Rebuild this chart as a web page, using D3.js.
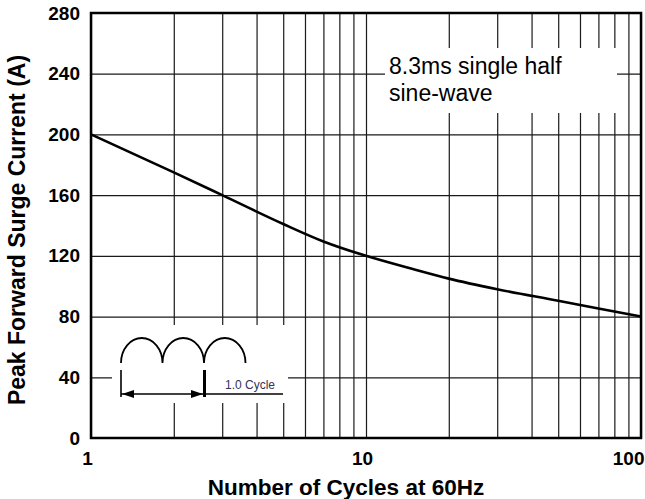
<!DOCTYPE html>
<html>
<head>
<meta charset="utf-8">
<script src="https://cdnjs.cloudflare.com/ajax/libs/d3/7.8.5/d3.min.js"></script>
<style>
html, body { margin: 0; padding: 0; background: #fff; }
svg { display: block; font-family: "Liberation Sans", Arial, sans-serif; }
.tick text { font-weight: bold; font-size: 19px; fill: #000; }
.grid line { stroke: #1a1a1a; stroke-width: 1.2; }
</style>
</head>
<body>
<svg id="chart" width="645" height="499"></svg>
<script>
// surge curve
var cycles = [1, 2, 3, 5, 7, 10, 15, 20, 30, 50, 70, 100];
var surge  = [200, 175, 160, 141, 129.5, 120, 111, 105, 98, 90.4, 85.3, 80];

var yTicks = [0, 40, 80, 120, 160, 200, 240, 280];
var xGrid = [1, 2, 3, 4, 5, 6, 7, 8, 9, 10, 20, 30, 40, 50, 60, 70, 80, 90, 100];
var xLabels = [1, 10, 100];

var margin = {top: 13, left: 91, right: 4, bottom: 61};
var W = 645, H = 499;
var w = W - margin.left - margin.right,
    h = H - margin.top - margin.bottom;

var svg = d3.select("#chart");
var g = svg.append("g").attr("transform", "translate(" + margin.left + "," + margin.top + ")");

var x = d3.scaleLog().domain([1, 100]).range([0, w]);
var y = d3.scaleLinear().domain([0, 280]).range([h, 0]);

// grid + tick labels
var yAxis = g.append("g").attr("class", "grid")
  .call(d3.axisLeft(y).tickValues(yTicks).tickSize(-w).tickPadding(11).tickFormat(d3.format("d")));
yAxis.select(".domain").remove();

var xAxis = g.append("g").attr("class", "grid")
  .attr("transform", "translate(0," + h + ")")
  .call(d3.axisBottom(x).tickValues(xGrid).tickSize(-h)
    .tickFormat(function(d) { return xLabels.indexOf(d) >= 0 ? d : ""; }));
xAxis.select(".domain").remove();
xAxis.selectAll(".tick text")
  .attr("y", 27).attr("dy", 0).attr("dx", -4)
  .filter(function(d) { return d === 100; })
  .attr("text-anchor", "end").attr("dx", 3);

// white boxes behind annotation and inset
g.append("rect").attr("x", 385 - margin.left).attr("y", 48 - margin.top)
  .attr("width", 232).attr("height", 65).attr("fill", "#fff");
g.append("rect").attr("x", 112 - margin.left).attr("y", 325 - margin.top)
  .attr("width", 176).attr("height", 78).attr("fill", "#fff");

// annotation
var note = g.append("text").attr("x", 389 - margin.left).attr("y", 74 - margin.top)
  .style("font-size", "23px").attr("fill", "#000");
note.append("tspan").text("8.3ms single half");
note.append("tspan").attr("x", 389 - margin.left).attr("dy", 27).text("sine-wave");

// curve
var line = d3.line()
  .x(function(d, i) { return x(cycles[i]); })
  .y(function(d) { return y(d); })
  .curve(d3.curveMonotoneX);

g.append("path").datum(surge)
  .attr("d", line)
  .attr("fill", "none")
  .attr("stroke", "#000")
  .attr("stroke-width", 2.6);

// half sine-wave inset
var inset = svg.append("g").attr("transform", "translate(121,363)");
var arcW = 41.5, arcH = 25;
var arcs = "";
for (var k = 0; k < 3; k++) {
  arcs += "M" + (k * arcW) + ",0 A" + (arcW / 2) + "," + arcH + " 0 0 1 " + ((k + 1) * arcW) + ",0 ";
}
inset.append("path").attr("d", arcs).attr("fill", "none").attr("stroke", "#000").attr("stroke-width", 1.8);

inset.append("line").attr("x1", 0).attr("x2", 0).attr("y1", 7).attr("y2", 34)
  .attr("stroke", "#000").attr("stroke-width", 1.6);
inset.append("line").attr("x1", 2 * arcW + 0.5).attr("x2", 2 * arcW + 0.5).attr("y1", 7).attr("y2", 34)
  .attr("stroke", "#000").attr("stroke-width", 3);
inset.append("line").attr("x1", 0).attr("x2", 162).attr("y1", 31).attr("y2", 31)
  .attr("stroke", "#000").attr("stroke-width", 1.6);
inset.append("path").attr("d", "M1,31 L13,27 L13,35 Z").attr("fill", "#000");
inset.append("path").attr("d", "M" + (2 * arcW - 1) + ",31 L" + (2 * arcW - 13) + ",27 L" + (2 * arcW - 13) + ",35 Z").attr("fill", "#000");
inset.append("text").attr("x", 104).attr("y", 26)
  .style("font-size", "12px").attr("fill", "#33335a").text("1.0 Cycle");

// frame
g.append("rect").attr("width", w).attr("height", h)
  .attr("fill", "none").attr("stroke", "#000").attr("stroke-width", 2.5);

// axis titles
svg.append("text").attr("x", 346).attr("y", 495).attr("text-anchor", "middle")
  .style("font-size", "22.5px").style("font-weight", "bold").text("Number of Cycles at 60Hz");
svg.append("text").attr("transform", "translate(25,230) rotate(-90)").attr("text-anchor", "middle")
  .style("font-size", "23px").style("font-weight", "bold").text("Peak Forward Surge Current (A)");
</script>
</body>
</html>
